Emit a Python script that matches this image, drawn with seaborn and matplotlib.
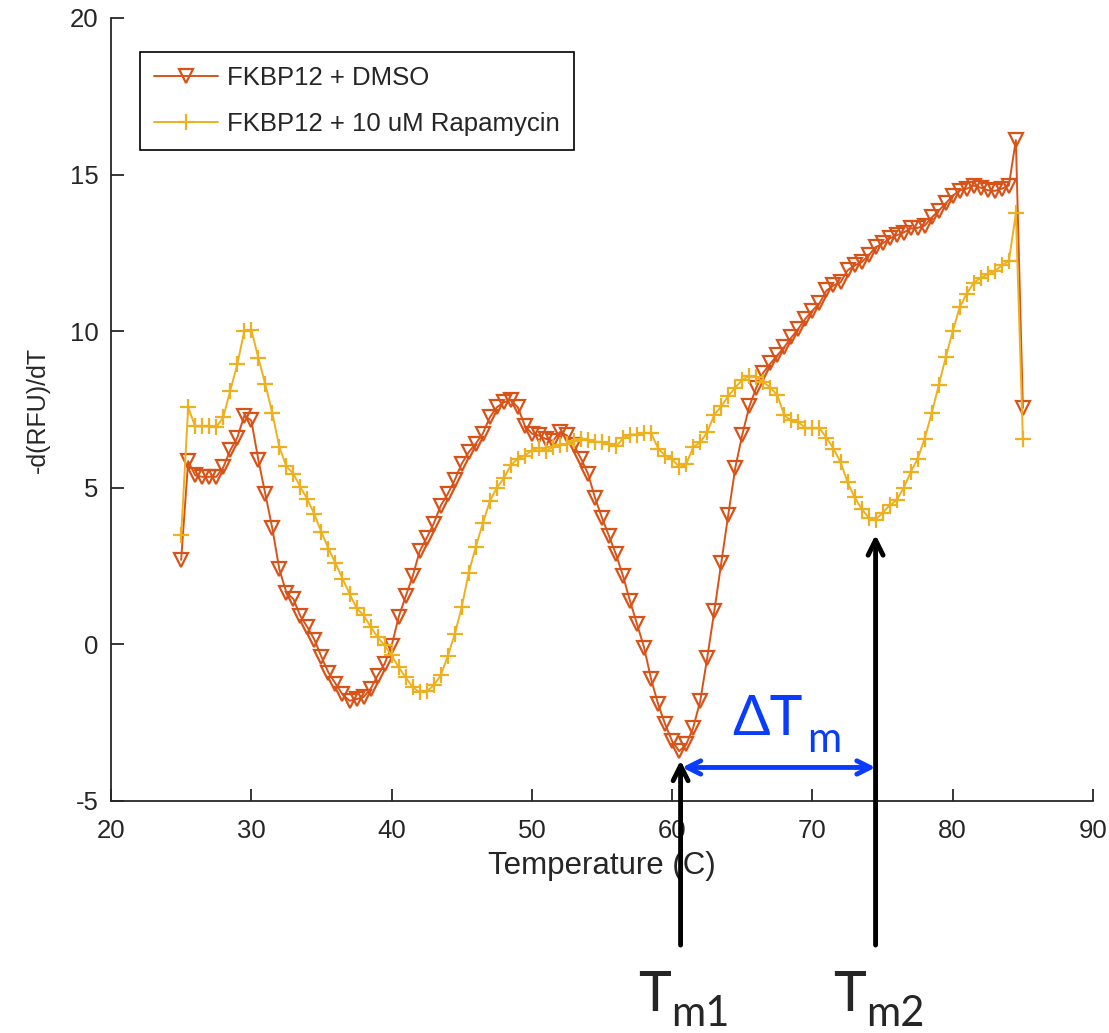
import matplotlib
matplotlib.use("Agg")
import matplotlib.pyplot as plt
import seaborn as sns
import numpy as np

# temperatures (C), one reading every 0.5 degrees
temps = np.arange(25, 85.01, 0.5)

# -d(RFU)/dT, FKBP12 + DMSO
dmso = [2.7, 5.85, 5.4, 5.35, 5.35, 5.35, 5.65, 6.2, 6.6, 7.3,
        7.15, 5.9, 4.8, 3.7, 2.4, 1.65, 1.45, 0.9, 0.55, 0.15,
        -0.4, -0.9, -1.25, -1.6, -1.8, -1.75, -1.68, -1.42, -1.0, -0.62,
        -0.05, 0.87, 1.53, 2.17, 2.97, 3.4, 3.85, 4.43, 4.8, 5.25,
        5.77, 6.14, 6.41, 6.73, 7.25, 7.57, 7.73, 7.8, 7.57, 6.98,
        6.73, 6.67, 6.56, 6.5, 6.78, 6.67, 6.35, 5.93, 5.45, 4.68,
        4.04, 3.46, 2.87, 2.18, 1.38, 0.64, -0.1, -1.11, -1.91, -2.55,
        -3.09, -3.41, -3.19, -2.66, -1.81, -0.43, 1.05, 2.6, 4.14, 5.64,
        6.7, 7.6, 8.2, 8.68, 8.97, 9.23, 9.5, 9.8, 10.08, 10.4,
        10.66, 10.89, 11.3, 11.46, 11.56, 11.94, 12.1, 12.2, 12.42, 12.68,
        12.8, 12.96, 13.06, 13.15, 13.28, 13.3, 13.37, 13.63, 13.85, 14.08,
        14.33, 14.49, 14.55, 14.65, 14.58, 14.5, 14.48, 14.55, 14.65, 16.1,
        7.55]

# -d(RFU)/dT, FKBP12 + 10 uM Rapamycin
rapa = [3.48, 7.57, 6.96, 6.96, 6.96, 6.93, 7.25, 8.1, 8.94, 10.0,
        10.05, 9.15, 8.3, 7.38, 6.3, 5.68, 5.45, 5.02, 4.63, 4.15,
        3.58, 3.06, 2.59, 2.1, 1.62, 1.16, 0.93, 0.57, 0.23, -0.03,
        -0.35, -0.73, -1.05, -1.37, -1.53, -1.5, -1.31, -0.99, -0.38, 0.32,
        1.19, 2.29, 3.11, 3.86, 4.57, 5.0, 5.3, 5.72, 5.93, 6.03,
        6.19, 6.28, 6.19, 6.3, 6.38, 6.4, 6.5, 6.57, 6.52, 6.47,
        6.46, 6.4, 6.32, 6.58, 6.7, 6.7, 6.75, 6.75, 6.25, 6.03,
        5.92, 5.66, 5.75, 6.3, 6.45, 6.78, 7.33, 7.6, 7.93, 8.2,
        8.45, 8.57, 8.53, 8.37, 8.2, 7.95, 7.31, 7.15, 7.1, 6.9,
        6.9, 6.9, 6.6, 6.25, 5.82, 5.18, 4.7, 4.33, 4.05, 3.98,
        4.2, 4.44, 4.6, 5.0, 5.49, 5.93, 6.57, 7.38, 8.27, 9.16,
        10.0, 10.77, 11.2, 11.55, 11.7, 11.82, 11.92, 12.1, 12.24, 13.76,
        6.57]

xticks = [20, 30, 40, 50, 60, 70, 80, 90]
yticks = [-5, 0, 5, 10, 15, 20]

# melting temperatures marked with arrows
tm1, tm2 = 60.6, 74.5
tm_labels = [(tm1, -3.7, "m1"), (tm2, 3.5, "m2")]

sns.set_theme(style="ticks")
plt.rcParams["font.family"] = ["Liberation Sans", "DejaVu Sans"]
plt.rcParams["axes.unicode_minus"] = False
plt.rcParams["xtick.direction"] = "in"
plt.rcParams["ytick.direction"] = "in"

orange = "#D95319"
yellow = "#EDB120"
blue = "#0A3CFF"

fig = plt.figure(figsize=(11.09, 10.33), dpi=100)
ax = fig.add_axes([0.1001, 0.2246, 0.8855, 0.758])

sns.lineplot(x=temps, y=dmso, ax=ax, color=orange, lw=1.4, linestyle="-",
             marker="v", markersize=10, markerfacecolor="none",
             markeredgecolor=orange, markeredgewidth=1.6, label="FKBP12 + DMSO")
sns.lineplot(x=temps, y=rapa, ax=ax, color=yellow, lw=1.4, linestyle="-",
             marker="+", markersize=11, markeredgecolor=yellow,
             markeredgewidth=1.6, label="FKBP12 + 10 uM Rapamycin")

ax.set_xlim(20, 90)
ax.set_ylim(-5, 20)
ax.set_xticks(xticks)
ax.set_yticks(yticks)
ax.tick_params(length=9, width=1.3, colors="#262626", labelsize=18.5)
ax.tick_params(axis="x", pad=13)
ax.tick_params(axis="y", pad=9)
for s in ["left", "bottom"]:
    ax.spines[s].set_color("#262626")
    ax.spines[s].set_linewidth(1.3)
sns.despine(ax=ax)

ax.set_xlabel("Temperature (C)", fontsize=22.5, color="#262626", labelpad=6)
ax.set_ylabel("-d(RFU)/dT", fontsize=18, color="#262626", labelpad=14)

leg = ax.legend(loc="upper left", bbox_to_anchor=(0.0295, 0.9566),
                borderaxespad=0, fontsize=18.5, frameon=True, fancybox=False,
                edgecolor="black", framealpha=1, handlelength=2.5,
                handletextpad=0.35, borderpad=0.55, labelspacing=0.85)
leg.get_frame().set_linewidth(1.2)

# Tm arrows, running below the axes, with their labels
for tm, top, sub in tm_labels:
    ax.annotate("", xy=(tm, top), xytext=(tm, -9.6), annotation_clip=False,
                arrowprops=dict(arrowstyle="->,head_length=0.9,head_width=0.45",
                                color="black", lw=3.5, shrinkA=0, shrinkB=0))
    ax.text(tm - 0.72, -11.7, "T", fontsize=40, ha="right", va="baseline",
            family="Lato", clip_on=False)
    ax.text(tm - 0.68, -12.2, sub, fontsize=30, ha="left", va="baseline",
            family="Lato", clip_on=False)

# delta Tm double arrow
ax.annotate("", xy=(tm1 + 0.1, -3.93), xytext=(tm2, -3.93), annotation_clip=False,
            arrowprops=dict(arrowstyle="<->,head_length=0.8,head_width=0.4",
                            color=blue, lw=3.5, shrinkA=0, shrinkB=0))
ax.text(tm1 + 3.66, -2.9, "\u0394T", color=blue, fontsize=40, ha="left",
        va="baseline", family="Lato")
ax.text(tm1 + 9.0, -3.45, "m", color=blue, fontsize=30, ha="left",
        va="baseline", family="Lato")

fig.savefig("out.png", dpi=100)
